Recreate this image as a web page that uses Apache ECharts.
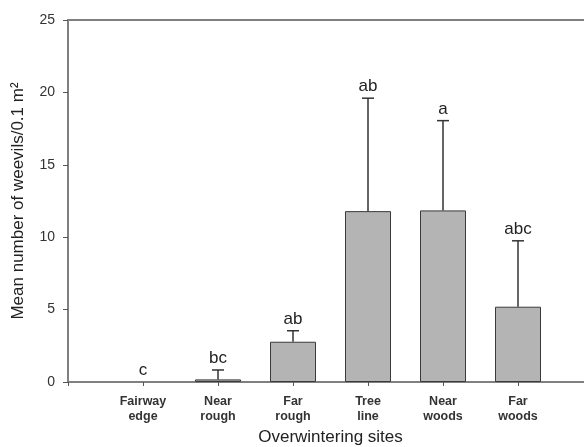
<!DOCTYPE html>
<html>
<head>
<meta charset="utf-8">
<script src="https://cdn.jsdelivr.net/npm/echarts@6/dist/echarts.min.js"></script>
<style>html,body{margin:0;padding:0;background:#fff;}#c{width:584px;height:447px;}</style>
</head>
<body>
<div id="c"></div>
<script>
const categories = ['Fairway\nedge', 'Near\nrough', 'Far\nrough', 'Tree\nline', 'Near\nwoods', 'Far\nwoods'];
const means = [0, 0.18, 2.78, 11.8, 11.85, 5.2];
const stdErrors = [0, 0.65, 0.76, 7.8, 6.2, 4.55];
const letters = ['c', 'bc', 'ab', 'ab', 'a', 'abc'];
const yTicks = [0, 5, 10, 15, 20, 25];

// padded categories so the first bar sits one slot from the y-axis
const axisCats = [''].concat(categories, ['']);
const barData = [null].concat(means.map(v => v > 0 ? v : {value: v, itemStyle: {borderWidth: 0}}), [null]);
const errData = categories.map((c, i) => [i + 1, means[i], means[i] + stdErrors[i]]);

const FONT = 'Liberation Sans, Arial, sans-serif';
const chart = echarts.init(document.getElementById('c'), null, {renderer: 'canvas'});
const axisColor = '#808080';
chart.setOption({
  animation: false,
  grid: {left: 68, top: 20, width: 525, bottom: 65, containLabel: false, outerBoundsMode: 'none'},
  xAxis: [{
    type: 'category',
    data: axisCats,
    boundaryGap: false,
    axisLine: {lineStyle: {color: axisColor, width: 2}},
    axisTick: {show: true, length: 4, lineStyle: {color: '#555', width: 1}},
    axisLabel: {color: '#333', fontFamily: FONT, fontWeight: 'bold', fontSize: 12.5, lineHeight: 15, margin: 12, interval: 0},
    name: 'Overwintering sites',
    nameLocation: 'middle',
    nameGap: 47,
    nameTextStyle: {color: '#222', fontFamily: FONT, fontSize: 17}
  }, {
    type: 'category',
    data: axisCats,
    position: 'top',
    boundaryGap: false,
    axisLine: {show: true, lineStyle: {color: axisColor, width: 2}},
    axisTick: {show: false},
    axisLabel: {show: false}
  }],
  yAxis: {
    type: 'value',
    min: yTicks[0],
    max: yTicks[yTicks.length - 1],
    interval: 5,
    splitLine: {show: false},
    axisLine: {show: true, lineStyle: {color: axisColor, width: 2}},
    axisTick: {show: true, length: 5, lineStyle: {color: '#555', width: 1}},
    axisLabel: {color: '#333', fontFamily: FONT, fontSize: 14, margin: 13},
    name: 'Mean number of weevils/0.1 m²',
    nameLocation: 'middle',
    nameGap: 41,
    nameTextStyle: {color: '#222', fontFamily: FONT, fontSize: 17}
  },
  series: [{
    type: 'bar',
    data: barData,
    barWidth: 46,
    itemStyle: {color: '#b4b4b4', borderColor: '#3a3a3a', borderWidth: 1}
  }, {
    type: 'custom',
    data: errData,
    z: 5,
    renderItem: function (params, api) {
      const x = api.value(0);
      const lo = api.coord([x, api.value(1)]);
      const hi = api.coord([x, api.value(2)]);
      const children = [];
      if (api.value(2) > api.value(1)) {
        children.push({type: 'line', shape: {x1: lo[0], y1: lo[1], x2: hi[0], y2: hi[1]}, style: {stroke: '#333', lineWidth: 1.5}});
        children.push({type: 'line', shape: {x1: hi[0] - 6, y1: hi[1], x2: hi[0] + 6, y2: hi[1]}, style: {stroke: '#333', lineWidth: 1.5}});
      }
      children.push({type: 'text', x: hi[0], y: hi[1] - 3, style: {text: letters[params.dataIndex], fill: '#222', font: '17px "Liberation Sans", Arial', align: 'center', verticalAlign: 'bottom'}});
      return {type: 'group', children: children};
    }
  }]
});
</script>
</body>
</html>
